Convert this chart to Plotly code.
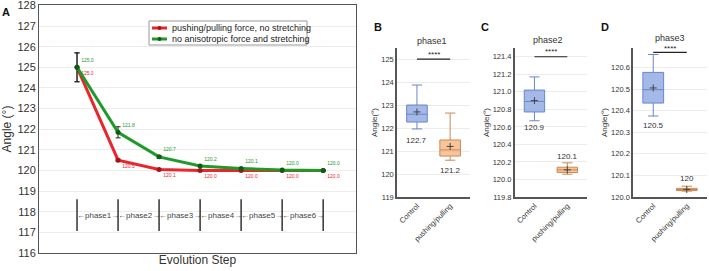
import plotly.graph_objects as go

# ---------- Data ----------
steps = [1, 2, 3, 4, 5, 6, 7]
red_vals = [125.0, 120.5, 120.05, 120.0, 120.0, 120.0, 120.0]
red_err = [0.7, 0.05, 0.03, 0.02, 0.02, 0.01, 0.01]
red_labels = ["125.0", "120.5", "120.1", "120.0", "120.0", "120.0", "120.0"]
green_vals = [125.0, 121.85, 120.66, 120.22, 120.1, 120.02, 120.0]
green_err = [0.7, 0.27, 0.06, 0.03, 0.02, 0.02, 0.01]
green_labels = ["125.0", "121.8", "120.7", "120.2", "120.1", "120.0", "120.0"]
series_names = ["pushing/pulling force, no stretching", "no anisotropic force and stretching"]
phase_names = ["phase1", "phase2", "phase3", "phase4", "phase5", "phase6"]
phase_band = [117.07, 118.6, 117.8]

groups = ["Control", "pushing/pulling"]
box_stats = {
    "phase1": dict(q1=[122.26, 120.78], med=[122.6, 121.05], q3=[123.0, 121.48],
                   lo=[121.96, 120.6], hi=[123.87, 122.65], mean=[122.7, 121.2],
                   lab=["122.7", "121.2"], laby=[121.45, 120.17], sig=125.0),
    "phase2": dict(q1=[120.77, 120.08], med=[120.89, 120.11], q3=[121.02, 120.14],
                   lo=[120.67, 120.06], hi=[121.17, 120.19], mean=[120.9, 120.11],
                   lab=["120.9", "120.1"], laby=[120.59, 120.26], sig=121.4),
    "phase3": dict(q1=[120.435, 120.03], med=[120.497, 120.035], q3=[120.577, 120.04],
                   lo=[120.375, 120.027], hi=[120.66, 120.05], mean=[120.505, 120.035],
                   lab=["120.5", "120"], laby=[120.33, 120.085], sig=120.67),
}
box_ranges = {"phase1": [119, 125.48], "phase2": [119.8, 121.5], "phase3": [120.0, 120.69]}
box_ticks = {"phase1": [119, 120, 121, 122, 123, 124, 125],
             "phase2": [119.8, 120.0, 120.2, 120.4, 120.6, 120.8, 121.0, 121.2, 121.4],
             "phase3": [120.0, 120.1, 120.2, 120.3, 120.4, 120.5, 120.6]}
box_fmt = {"phase1": "d", "phase2": ".1f", "phase3": ".1f"}

FONT = "Liberation Sans, Arial, sans-serif"
W, H = 709, 271
RED, RED_M = "#e8262c", "#a51515"
GREEN, GREEN_M = "#1e9a2a", "#0c5e14"

fig = go.Figure()

# ---------- Panel A ----------
fig.add_trace(go.Scatter(
    x=steps, y=red_vals, mode="lines+markers+text", name=series_names[0],
    line=dict(color=RED, width=3), marker=dict(color=RED_M, size=5),
    error_y=dict(type="data", array=red_err, color="#222", thickness=1, width=2.5),
    text=red_labels, textposition="bottom right",
    textfont=dict(size=5, color=RED, family=FONT), showlegend=False,
    xaxis="x", yaxis="y"))
fig.add_trace(go.Scatter(
    x=steps, y=green_vals, mode="lines+markers+text", name=series_names[1],
    line=dict(color=GREEN, width=3), marker=dict(color=GREEN_M, size=5),
    error_y=dict(type="data", array=green_err, color="#222", thickness=1, width=2.5),
    text=green_labels, textposition="top right",
    textfont=dict(size=5, color=GREEN, family=FONT), showlegend=False,
    xaxis="x", yaxis="y"))

px, py = [], []
for s in steps:
    px += [s, s, None]
    py += [phase_band[0], phase_band[1], None]
fig.add_trace(go.Scatter(x=px, y=py, mode="lines", line=dict(color="#333", width=1.5),
                         showlegend=False, hoverinfo="skip", xaxis="x", yaxis="y"))

annotations = []
shapes = []
for i, nm in enumerate(phase_names):
    annotations.append(dict(x=steps[i] + 0.5, y=phase_band[2], xref="x", yref="y",
                            text="\u2190" + nm + "\u2192", showarrow=False,
                            font=dict(size=8, color="#444", family=FONT)))

# manual legend (paper coords)
lx0, lx1, ly0, ly1 = 149, 307, 21, 45
shapes.append(dict(type="rect", xref="paper", yref="paper", x0=lx0 / W, x1=lx1 / W,
                   y0=1 - ly1 / H, y1=1 - ly0 / H, line=dict(color="#999", width=1),
                   fillcolor="white", layer="above"))
for k, (col, mcol, yy) in enumerate([(RED, RED_M, 28), (GREEN, GREEN_M, 39)]):
    shapes.append(dict(type="line", xref="paper", yref="paper", x0=152 / W, x1=167 / W,
                       y0=1 - yy / H, y1=1 - yy / H, line=dict(color=col, width=3), layer="above"))
    shapes.append(dict(type="circle", xref="paper", yref="paper", x0=157.5 / W, x1=161.5 / W,
                       y0=1 - (yy + 2) / H, y1=1 - (yy - 2) / H,
                       line=dict(color=mcol, width=0), fillcolor=mcol, layer="above"))
    annotations.append(dict(x=170 / W, y=1 - yy / H, xref="paper", yref="paper",
                            xanchor="left", yanchor="middle", text=series_names[k],
                            showarrow=False, font=dict(size=9, color="#222", family=FONT)))

# ---------- Box panels ----------
doms = {"phase1": [0.560, 0.663], "phase2": [0.726, 0.828], "phase3": [0.893, 0.997]}
letters = {"phase1": ("B", 378, 432, 41, 5), "phase2": ("C", 485, 548, 40, 5),
           "phase3": ("D", 605, 670, 38, 4)}
axis_ids = {"phase1": ("x2", "y2"), "phase2": ("x3", "y3"), "phase3": ("x4", "y4")}
fills = ["rgba(125,155,222,0.7)", "rgba(245,172,112,0.7)"]
lines_c = ["#6a86c8", "#c98a55"]

for ph, st in box_stats.items():
    xa, ya = axis_ids[ph]
    for gi, g in enumerate(groups):
        fig.add_trace(go.Box(
            x=[g], q1=[st["q1"][gi]], median=[st["med"][gi]], q3=[st["q3"][gi]],
            lowerfence=[st["lo"][gi]], upperfence=[st["hi"][gi]],
            fillcolor=fills[gi], line=dict(color=lines_c[gi], width=1),
            whiskerwidth=0.5, width=0.62, showlegend=False, boxpoints=False,
            xaxis=xa, yaxis=ya))
        fig.add_trace(go.Scatter(
            x=[g], y=[st["mean"][gi]], mode="markers",
            marker=dict(symbol="cross-thin", size=5, line=dict(color="#444", width=1)),
            showlegend=False, xaxis=xa, yaxis=ya))
        annotations.append(dict(x=g, y=st["laby"][gi], xref=xa, yref=ya, text=st["lab"][gi],
                                showarrow=False, font=dict(size=8, color="#333", family=FONT)))
    fig.add_trace(go.Scatter(x=groups, y=[st["sig"], st["sig"]], mode="lines",
                             line=dict(color="#222", width=1.2), showlegend=False,
                             xaxis=xa, yaxis=ya))
    L = letters[ph]
    annotations.append(dict(x=0.5, y=st["sig"], xref=xa, yref=ya, text="****",
                            showarrow=False, yshift=L[4], font=dict(size=8, color="#222", family=FONT)))
    annotations.append(dict(x=L[2] / W, y=1 - L[3] / H, xref="paper", yref="paper",
                            text=ph, showarrow=False, xanchor="center", yanchor="middle",
                            font=dict(size=9, color="#333", family=FONT)))
    annotations.append(dict(x=L[1] / W, y=1 - 27 / H, xref="paper", yref="paper",
                            text="<b>" + L[0] + "</b>", showarrow=False,
                            xanchor="center", yanchor="middle",
                            font=dict(size=11, color="#111", family=FONT)))

annotations.append(dict(x=6 / W, y=1 - 12 / H, xref="paper", yref="paper", text="<b>A</b>",
                        xanchor="center", yanchor="middle",
                        showarrow=False, font=dict(size=11, color="#111", family=FONT)))

layout = dict(
    width=W, height=H, margin=dict(l=0, r=0, t=0, b=0),
    paper_bgcolor="white", plot_bgcolor="white",
    font=dict(family=FONT, color="#333"), showlegend=False,
    xaxis=dict(domain=[39 / W, 356 / W], range=[0.073, 7.8], showticklabels=False, ticks="",
               showgrid=False, zeroline=False, showline=True, linecolor="#555", mirror=True,
               automargin=False,
               title=dict(text="Evolution Step", font=dict(size=12, color="#333"), standoff=2)),
    yaxis=dict(domain=[1 - 253 / H, 1 - 5 / H], range=[116, 128.02], dtick=1,
               showgrid=True, gridcolor="#ececec", zeroline=False, showline=True,
               linecolor="#555", mirror=True, ticks="", tickfont=dict(size=11, color="#333"),
               automargin=False, ticklabeloverflow="allow",
               title=dict(text="Angle (°)", font=dict(size=12, color="#333"), standoff=4)),
    annotations=annotations, shapes=shapes,
)
for ph in box_stats:
    xa, ya = axis_ids[ph]
    xk = "xaxis" + xa[1:]
    yk = "yaxis" + ya[1:]
    layout[xk] = dict(domain=doms[ph], range=[-0.6, 1.6], anchor=ya, type="category",
                      showline=True, linecolor="#555", linewidth=1.5, ticks="", showgrid=False,
                      tickangle=-45, tickfont=dict(size=7.5, color="#333"), automargin=False)
    layout[yk] = dict(domain=[1 - 197 / H, 1 - 48 / H], range=box_ranges[ph], anchor=xa,
                      tickvals=box_ticks[ph], tickformat=box_fmt[ph],
                      showline=True, linecolor="#555", linewidth=1.5, ticks="",
                      showgrid=True, gridcolor="#ececec", zeroline=False,
                      tickfont=dict(size=7.5, color="#333"), automargin=False,
                      title=dict(text="Angle(°)", font=dict(size=8, color="#333"), standoff=2))

fig.update_layout(**layout)
fig.write_html("out.html")
